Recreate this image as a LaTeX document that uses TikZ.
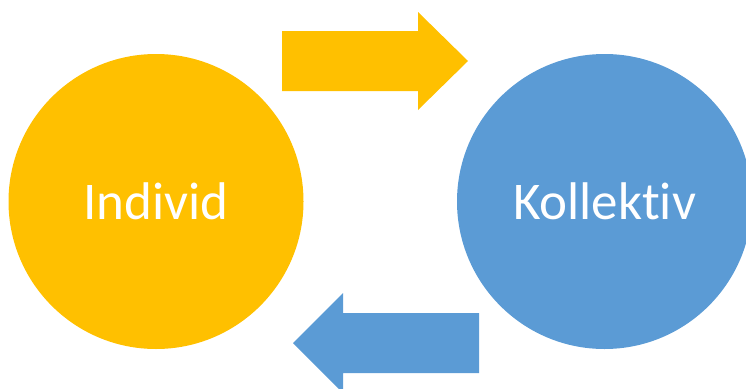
\documentclass[tikz,border=0pt]{standalone}
\usepackage{fontspec}
\setmainfont{Carlito}[Ligatures={NoCommon,NoContextual}]
\usetikzlibrary{positioning}
\definecolor{gold}{RGB}{255,192,0}
\definecolor{steel}{RGB}{91,155,213}

\begin{document}
\begin{tikzpicture}[
        x=1pt, y=-1pt,
        blob/.style={circle, inner sep=0pt, minimum size=295pt, text=white, font=\fontsize{53}{60}\selectfont},
        bigarrow/.style={draw=none},
      ]
      \useasboundingbox (0,0) rectangle (746,388);
      \clip (0,0) rectangle (746,388);
      \node[blob, fill=gold] (individ) at (156,201.5) {Individ};
      \node[blob, fill=steel] (kollektiv) at (604.5,201.5) {Kollektiv};
      % arrow to the right, above
      \fill[bigarrow, gold] (282,31) -- (418,31) -- (418,12) -- (468,61)
        -- (418,110) -- (418,91) -- (282,91) -- cycle;
      % arrow to the left, below
      \fill[bigarrow, steel] (479,313) -- (343,313) -- (343,293) -- (293,343)
        -- (343,393) -- (343,373) -- (479,373) -- cycle;
    \end{tikzpicture}
\end{document}
